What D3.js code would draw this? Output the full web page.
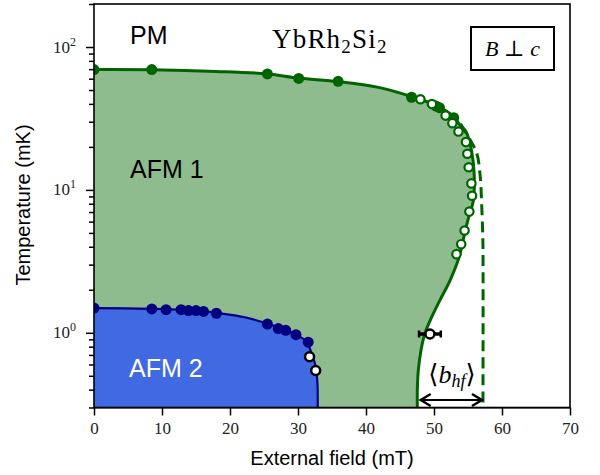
<!DOCTYPE html>
<html>
<head>
<meta charset="utf-8">
<script src="https://cdn.jsdelivr.net/npm/d3@7/dist/d3.min.js"></script>
<style>
  body { margin: 0; background: #fff; }
  svg { display: block; }
</style>
</head>
<body>
<div id="chart"></div>
<script>
// field (mT), temperature (mK)
const afm1Line = [[0,69.5],[8.5,69.3],[18,67.5],[25.5,64.8],[30.1,60.6],[35.9,57.3],[42,52],[46.7,45],[50.3,39],[52.9,32.5],[53.8,28.5],[54.7,25.6],[55.5,19],[55.9,13.1],[55.8,8.5],[55.0,6.2],[54.4,4.7],[53.7,3.4],[52.4,2.35],[50.9,1.7],[49.6,1.27],[48.6,0.97],[48.1,0.76],[47.7,0.55],[47.55,0.4],[47.55,0.3]];
const afm1Dashed = [[53.9,29],[55.4,22],[56.3,18],[56.8,12.4],[57.0,8.1],[57.15,5.2],[57.2,4],[57.2,0.3]];
const afm1Filled = [[0,69.5],[8.5,69.5],[25.5,64.8],[30.1,60.3],[35.9,57.5],[46.7,44.5],[50.3,38.6],[50.8,37.6],[52.9,32]];
const afm1Open = [[48.0,43.1],[49.7,39.9],[51.7,33.1],[52.7,29.3],[53.6,25.6],[54.7,21.6],[54.9,17.9],[55.1,14.4],[55.5,11.1],[55.6,9.1],[55.2,7.05],[54.5,5.2],[54.0,4.17],[53.3,3.55]];
const afm1ErrPoints = [[49.4,0.98,1.6]];

const afm2Line = [[0,1.49],[8.5,1.47],[13,1.45],[16,1.42],[18,1.38],[22,1.29],[25.5,1.16],[28.2,1.04],[29.7,0.97],[31.2,0.87],[32.0,0.72],[32.6,0.58],[32.85,0.45],[32.9,0.3]];
const afm2Filled = [[0,1.49],[8.5,1.47],[10.6,1.45],[12.8,1.45],[13.9,1.43],[15.0,1.43],[16.1,1.41],[18.0,1.37],[25.5,1.15],[27.1,1.07],[28.2,1.04],[29.7,0.97],[31.5,0.86]];
const afm2ErrPoints = [[31.7,0.68,0.4],[32.6,0.545,0.4]];

const xTicks = [0,10,20,30,40,50,60,70];
const yMajor = [1,10,100];
const yMinor = [0.3,0.4,0.5,0.6,0.7,0.8,0.9,2,3,4,5,6,7,8,9,20,30,40,50,60,70,80,90,200];
const bhfArrow = [47.6, 57.2];

const W = 600, H = 475;
const svg = d3.select('#chart').append('svg').attr('width', W).attr('height', H);

const x = d3.scaleLinear().domain([0,70]).range([94,570]);
const y = d3.scaleLog().domain([0.3,200]).range([407.5,4]);
const serif = '"Liberation Serif", "DejaVu Serif", serif';
const sans = '"Liberation Sans", Arial, sans-serif';

svg.append('clipPath').attr('id','clip').append('rect')
    .attr('x', x(0)).attr('y', y(200)).attr('width', x(70)-x(0)).attr('height', y(0.3)-y(200));
const plot = svg.append('g').attr('clip-path','url(#clip)');

const line = d3.line().x(d => x(d[0])).y(d => y(d[1])).curve(d3.curveCatmullRom.alpha(0.5));

//Fill regions
plot.append('path')
    .attr('d', line(afm1Line) + 'L' + x(0) + ',' + y(0.3) + 'Z')
    .attr('fill', '#8fbc8f');
plot.append('path')
    .attr('d', line(afm2Line) + 'L' + x(0) + ',' + y(0.3) + 'Z')
    .attr('fill', '#4169e1');

//Boundaries
plot.append('path').attr('d', line(afm1Line))
    .attr('fill','none').attr('stroke','#006400').attr('stroke-width',3);
plot.append('path').attr('d', line(afm1Dashed))
    .attr('fill','none').attr('stroke','#006400').attr('stroke-width',3)
    .attr('stroke-dasharray','11,6');
plot.append('path').attr('d', line(afm2Line))
    .attr('fill','none').attr('stroke','#000080').attr('stroke-width',2.2);

//Points
plot.selectAll('.g-filled').data(afm1Filled).enter().append('circle')
    .attr('cx', d => x(d[0])).attr('cy', d => y(d[1])).attr('r', 5.5)
    .attr('fill','#006400');
plot.selectAll('.g-open').data(afm1Open).enter().append('circle')
    .attr('cx', d => x(d[0])).attr('cy', d => y(d[1])).attr('r', 4.2)
    .attr('fill','#fff').attr('stroke','#006400').attr('stroke-width',2.2);
plot.selectAll('.b-filled').data(afm2Filled).enter().append('circle')
    .attr('cx', d => x(d[0])).attr('cy', d => y(d[1])).attr('r', 5.5)
    .attr('fill','#000080');

function errPoints(data) {
    const g = plot.append('g');
    data.forEach(function(d) {
        g.append('line')
            .attr('x1', x(d[0]-d[2])).attr('x2', x(d[0]+d[2]))
            .attr('y1', y(d[1])).attr('y2', y(d[1]))
            .attr('stroke','#000').attr('stroke-width',3.5);
        [d[0]-d[2], d[0]+d[2]].forEach(function(e) {
            g.append('line')
                .attr('x1', x(e)).attr('x2', x(e))
                .attr('y1', y(d[1])-3.5).attr('y2', y(d[1])+3.5)
                .attr('stroke','#000').attr('stroke-width',2.5);
        });
        g.append('circle')
            .attr('cx', x(d[0])).attr('cy', y(d[1])).attr('r', 4.5)
            .attr('fill','#fff').attr('stroke','#000').attr('stroke-width',2.5);
    });
}
errPoints(afm1ErrPoints);
errPoints(afm2ErrPoints);

//b_hf arrow
const ay = 400;
svg.append('line')
    .attr('x1', x(bhfArrow[0])+3).attr('x2', x(bhfArrow[1])-1)
    .attr('y1', ay).attr('y2', ay)
    .attr('stroke','#000').attr('stroke-width',2.2);
[[x(bhfArrow[0])+3, 1], [x(bhfArrow[1])-1, -1]].forEach(function(a) {
    svg.append('path')
        .attr('d', 'M' + (a[0] + a[1]*10) + ',' + (ay-6) + 'L' + a[0] + ',' + ay + 'L' + (a[0] + a[1]*10) + ',' + (ay+6))
        .attr('fill','none').attr('stroke','#000').attr('stroke-width',2.4);
});

//Axes
const xAxis = svg.append('g')
    .attr('transform', 'translate(0,' + y(0.3) + ')')
    .call(d3.axisBottom(x).tickValues(xTicks).tickSize(8).tickSizeOuter(0).tickPadding(6));
xAxis.selectAll('text').attr('font-family', serif).attr('font-size', 17).attr('fill','#222');
xAxis.selectAll('line').attr('stroke-width', 1.5);

const yAxis = svg.append('g')
    .attr('transform', 'translate(' + x(0) + ',0)')
    .call(d3.axisLeft(y).tickValues(yMajor.concat(yMinor)).tickFormat('').tickSizeOuter(0));
yAxis.selectAll('.tick line')
    .attr('x2', d => yMajor.indexOf(d) > -1 ? -8 : -5)
    .attr('stroke-width', 1.5);
yAxis.selectAll('.domain').remove();

yMajor.forEach(function(v) {
    const t = svg.append('text')
        .attr('x', 76).attr('y', y(v) + 5.5)
        .attr('text-anchor','end')
        .attr('font-family', serif).attr('font-size', 17).attr('fill','#222');
    t.append('tspan').text('10');
    t.append('tspan').attr('dy', -7).attr('font-size', 12).text(String(Math.round(Math.log10(v))));
});

//Frame
svg.append('rect')
    .attr('x', x(0)).attr('y', y(200)).attr('width', x(70)-x(0)).attr('height', y(0.3)-y(200))
    .attr('fill','none').attr('stroke','#000').attr('stroke-width',1.6);

//Labels
svg.append('text').attr('x', 332).attr('y', 465).attr('text-anchor','middle')
    .attr('font-family', sans).attr('font-size', 20).text('External field (mT)');
svg.append('text').attr('transform','translate(30,205) rotate(-90)').attr('text-anchor','middle')
    .attr('font-family', sans).attr('font-size', 20).text('Temperature (mK)');

svg.append('text').attr('x', 130).attr('y', 44).attr('font-family', sans).attr('font-size', 25).text('PM');
svg.append('text').attr('x', 130).attr('y', 178).attr('font-family', sans).attr('font-size', 25).text('AFM 1');
svg.append('text').attr('x', 129).attr('y', 377).attr('font-family', sans).attr('font-size', 25)
    .attr('fill','#fff').text('AFM 2');

const title = svg.append('text').attr('x', 272).attr('y', 48)
    .attr('font-family', serif).attr('font-size', 27).attr('letter-spacing', 1.2);
title.append('tspan').text('YbRh');
title.append('tspan').attr('dy', 5).attr('font-size', 19).text('2');
title.append('tspan').attr('dy', -5).text('Si');
title.append('tspan').attr('dy', 5).attr('font-size', 19).text('2');

svg.append('rect').attr('x', 471).attr('y', 27).attr('width', 83).attr('height', 43)
    .attr('fill','#fff').attr('stroke','#000').attr('stroke-width',2);
const bc = svg.append('text').attr('x', 512.5).attr('y', 55.5).attr('text-anchor','middle')
    .attr('font-family', serif).attr('font-size', 22);
bc.append('tspan').attr('font-style','italic').text('B');
bc.append('tspan').text(' \u22A5 ');
bc.append('tspan').attr('font-style','italic').text('c');

const bhf = svg.append('text').attr('x', 452).attr('y', 383).attr('text-anchor','middle')
    .attr('font-family', serif).attr('font-size', 26);
bhf.append('tspan').text('\u27E8');
bhf.append('tspan').attr('font-style','italic').text('b');
bhf.append('tspan').attr('font-style','italic').attr('font-size', 18).attr('dy', 4).text('hf');
bhf.append('tspan').attr('dy', -4).text('\u27E9');
</script>
</body>
</html>
